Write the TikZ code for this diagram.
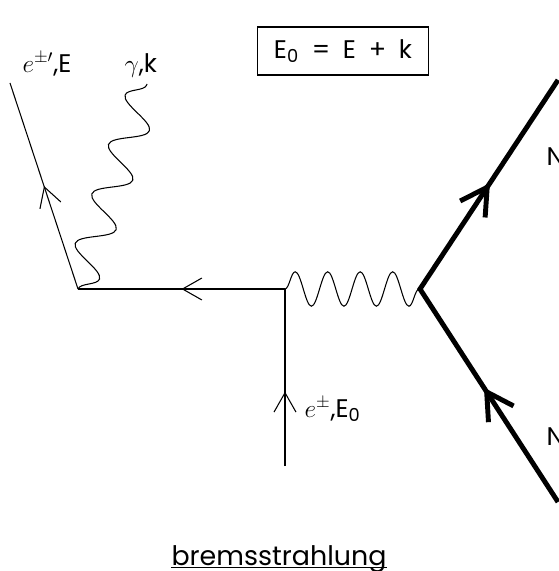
\documentclass[tikz,border=0pt]{standalone}
\usepackage{fontspec}
\setmainfont{Poppins}
\usetikzlibrary{arrows.meta, decorations.pathmorphing, decorations.markings}

\tikzset{
  lbl/.style={inner sep=0pt, font=\fontsize{14.5}{17}\selectfont},
  fermion/.style={postaction={decorate}, decoration={markings,
      mark=at position #1 with {\arrow{Straight Barb[length=11pt,width=12.5pt]}}}},
  fermion/.default=0.5,
  nucleon/.style={line width=2.8pt, line join=miter, postaction={decorate},
    decoration={markings,
      mark=at position 0.27 with {\arrow{Straight Barb[length=15pt,width=17pt]}},
      mark=at position 0.755 with {\arrow{Straight Barb[length=15pt,width=17pt]}}}},
  photon/.style={decorate, decoration={snake, amplitude=#1,
      pre length=0pt, post length=0pt}},
}

\begin{document}
\begin{tikzpicture}[x=0.02cm, y=-0.02cm, line width=0.6pt]
    \useasboundingbox (0,0) rectangle (558,571);

    % Vertices and free ends
    \coordinate (A) at (78,289);
    \coordinate (B) at (285,289);
    \coordinate (C) at (420,289);
    \coordinate (eout) at (10,83);
    \coordinate (gend) at (147,84);
    \coordinate (ein) at (285,466);
    \coordinate (Nup) at (558,80);
    \coordinate (Ndown) at (558,502);

    % Electron lines
    \draw[fermion=0.42] (ein) -- (B);
    \draw[fermion] (B) -- (A);
    \draw[fermion] (A) -- (eout);

    % Photons
    \draw[photon=-9.8pt, decoration={segment length=29.7pt}] (A) -- (gend);
    \draw[photon=9.8pt, decoration={segment length=18.5pt}] (B) -- (C);

    % Nucleus
    \draw[nucleon] (Ndown) -- (C) -- (Nup);

    % Labels
    \node[lbl, anchor=base west] (eoutlbl) at (22,72) {$e^{\pm\prime}$,E};
    \node[lbl, anchor=base west] (glbl) at (124,72) {$\gamma$,k};
    \node[lbl, anchor=base west] (einlbl) at (304,417) {$e^{\pm}$,E\textsubscript{0}};
    \node[lbl, anchor=base west] (Nuplbl) at (546,165) {N};
    \node[lbl, anchor=base west] (Ndownlbl) at (546,445) {N};

    % Energy balance
    \node[lbl, draw, minimum width=97pt, minimum height=27.3pt] (eqbox) at (343,51)
        {E\textsubscript{0}\hspace{0.5em}=\hspace{0.5em}E\hspace{0.5em}+\hspace{0.5em}k};

    % Title
    \node[lbl, font=\fontsize{15.3}{18}\selectfont, anchor=base] (title) at (279,565) {bremsstrahlung};
    \draw ([yshift=-1.5pt]title.base west) -- ([yshift=-1.5pt]title.base east);
\end{tikzpicture}
\end{document}
